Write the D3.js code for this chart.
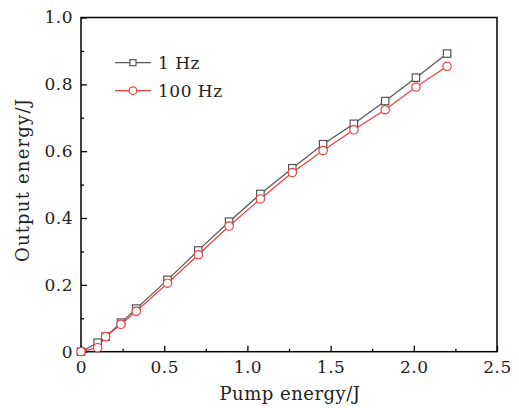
<!DOCTYPE html>
<html>
<head>
<meta charset="utf-8">
<script src="https://cdn.jsdelivr.net/npm/d3@7"></script>
<style>
  body { margin: 0; background: #fff; }
  text { font-family: "DejaVu Serif", serif; }
</style>
</head>
<body>
<svg width="519" height="408"></svg>
<script>
// pump energy (J)
var pump = [0, 0.10, 0.148, 0.24, 0.332, 0.52, 0.705, 0.89, 1.078, 1.27, 1.455, 1.64, 1.828, 2.013, 2.2];
// output energy (J)
var out1Hz = [0, 0.027, 0.045, 0.087, 0.129, 0.215, 0.303, 0.389, 0.472, 0.549, 0.621, 0.682, 0.75, 0.82, 0.892];
var out100Hz = [0, 0.012, 0.045, 0.082, 0.121, 0.205, 0.29, 0.376, 0.457, 0.536, 0.602, 0.664, 0.724, 0.792, 0.854];
var seriesNames = ["1 Hz", "100 Hz"];
var xTicks = [0, 0.5, 1.0, 1.5, 2.0, 2.5];
var yTicks = [0, 0.2, 0.4, 0.6, 0.8, 1.0];

var svg = d3.select("svg");
var mLeft = 81, mRight = 497, mTop = 17.5, mBottom = 351.7;

var xScale = d3.scaleLinear().domain([0, 2.5]).range([mLeft, mRight]);
var yScale = d3.scaleLinear().domain([0, 1.0]).range([mBottom, mTop]);

var fmt = function (d) { return d === 0 ? "0" : d.toFixed(1); };

// minor ticks
var xMinor = d3.range(0.25, 2.5, 0.5);
var yMinor = d3.range(0.1, 1.0, 0.2);

var gx = svg.append("g").attr("transform", "translate(0," + mBottom + ")")
  .call(d3.axisBottom(xScale).tickValues(xTicks).tickFormat(fmt).tickSizeInner(-6).tickSizeOuter(0).tickPadding(9));
var gxm = svg.append("g").attr("transform", "translate(0," + mBottom + ")")
  .call(d3.axisBottom(xScale).tickValues(xMinor).tickFormat("").tickSizeInner(-3).tickSizeOuter(0));
var gy = svg.append("g").attr("transform", "translate(" + mLeft + ",0)")
  .call(d3.axisLeft(yScale).tickValues(yTicks).tickFormat(fmt).tickSizeInner(-6).tickSizeOuter(0).tickPadding(8));
var gym = svg.append("g").attr("transform", "translate(" + mLeft + ",0)")
  .call(d3.axisLeft(yScale).tickValues(yMinor).tickFormat("").tickSizeInner(-3).tickSizeOuter(0));

[gx, gxm, gy, gym].forEach(function (g) {
  g.select(".domain").remove();
  g.selectAll("line").attr("stroke", "#000").attr("stroke-width", 1.3);
  g.selectAll("text").style("font-family", "DejaVu Serif").style("font-size", "17px")
    .style("letter-spacing", "0.5px").attr("fill", "#222");
});

// frame
svg.append("rect")
  .attr("x", mLeft).attr("y", mTop)
  .attr("width", mRight - mLeft).attr("height", mBottom - mTop)
  .attr("fill", "none").attr("stroke", "#000").attr("stroke-width", 1.5);

// axis labels
svg.append("text")
  .attr("x", 290).attr("y", 400)
  .attr("text-anchor", "middle")
  .style("font-size", "18px").style("letter-spacing", "0.5px").attr("fill", "#222")
  .text("Pump energy/J");

svg.append("text")
  .attr("text-anchor", "middle")
  .attr("transform", "translate(29,180)rotate(-90)")
  .style("font-size", "18px").style("letter-spacing", "1.2px").attr("fill", "#222")
  .text("Output energy/J");

var colors = ["#555555", "#f03c3c"];
var datasets = [out1Hz, out100Hz].map(function (ys) {
  return pump.map(function (x, i) { return [x, ys[i]]; });
});

var line = d3.line()
  .x(function (d) { return xScale(d[0]); })
  .y(function (d) { return yScale(d[1]); });

datasets.forEach(function (data, k) {
  svg.append("path")
    .datum(data)
    .attr("d", line)
    .attr("fill", "none")
    .attr("stroke", colors[k])
    .attr("stroke-width", 1.2);
});

// markers
svg.append("g").selectAll("rect")
  .data(datasets[0])
  .enter()
  .append("rect")
  .attr("x", function (d) { return xScale(d[0]) - 3.7; })
  .attr("y", function (d) { return yScale(d[1]) - 3.7; })
  .attr("width", 7.4).attr("height", 7.4)
  .attr("fill", "#fff").attr("stroke", colors[0]).attr("stroke-width", 1.2);

svg.append("g").selectAll("circle")
  .data(datasets[1])
  .enter()
  .append("circle")
  .attr("cx", function (d) { return xScale(d[0]); })
  .attr("cy", function (d) { return yScale(d[1]); })
  .attr("r", 4.2)
  .attr("fill", "#fff").attr("stroke", colors[1]).attr("stroke-width", 1.2);

// legend
var legend = svg.append("g");
seriesNames.forEach(function (name, k) {
  var ly = 62.7 + k * 28;
  legend.append("line")
    .attr("x1", 115).attr("x2", 151).attr("y1", ly).attr("y2", ly)
    .attr("stroke", colors[k]).attr("stroke-width", 1.2);
  if (k === 0) {
    legend.append("rect")
      .attr("x", 133 - 3).attr("y", ly - 3).attr("width", 6).attr("height", 6)
      .attr("fill", "#fff").attr("stroke", colors[k]).attr("stroke-width", 1.2);
  } else {
    legend.append("circle")
      .attr("cx", 133).attr("cy", ly).attr("r", 3.8)
      .attr("fill", "#fff").attr("stroke", colors[k]).attr("stroke-width", 1.2);
  }
  legend.append("text")
    .attr("x", 158).attr("y", ly + 6)
    .style("font-size", "17px").style("letter-spacing", "0.5px").attr("fill", "#222")
    .text(name);
});
</script>
</body>
</html>
